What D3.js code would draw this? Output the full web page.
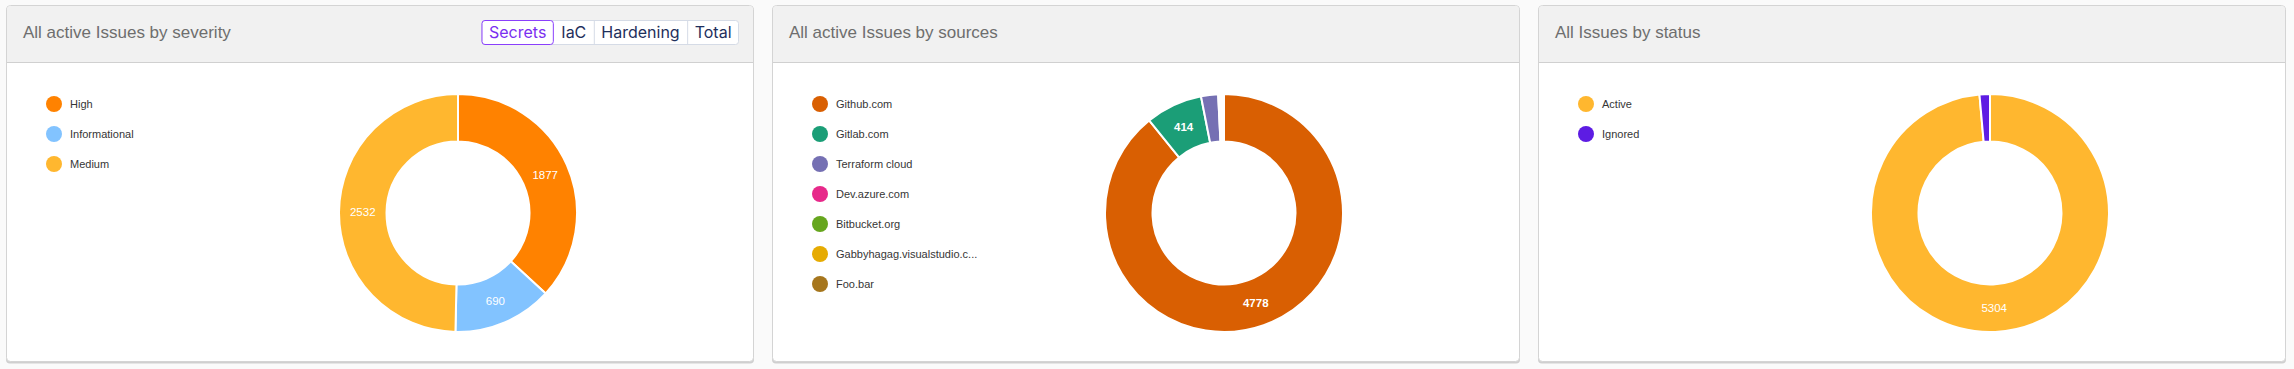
<!DOCTYPE html>
<html>
<head>
<meta charset="utf-8">
<script src="https://cdn.jsdelivr.net/npm/d3@7"></script>
<style>
  html, body { margin: 0; padding: 0; background: #fafafa; }
  svg { display: block; }
</style>
</head>
<body>
<svg id="chart" width="2294" height="369"></svg>
<script>
// ---- data ----
const severityLabels = ["High", "Informational", "Medium"];
const severityValues = [1877, 690, 2532];

const sourceLabels = ["Github.com", "Gitlab.com", "Terraform cloud", "Dev.azure.com", "Bitbucket.org", "Gabbyhagag.visualstudio.c...", "Foo.bar"];
const sourceValues = [4778, 414, 124, 12, 11, 10, 9];

const statusLabels = ["Active", "Ignored"];
const statusValues = [5304, 76];

const titles = ["All active Issues by severity", "All active Issues by sources", "All Issues by status"];
const toggleLabels = ["Secrets", "IaC", "Hardening", "Total"];

// ---- styles ----
const severityColors = ["#ff8200", "#82c3ff", "#ffb72f"];
const sourceColors = ["#d95f02", "#1b9e77", "#7570b3", "#e7298a", "#66a61e", "#e6ab02", "#a6761d"];
const statusColors = ["#ffb72f", "#5d1ce3"];

const svg = d3.select("#chart");
const panelX = [6, 772, 1538];
const panelW = 748, panelTop = 5, panelH = 357, headerH = 57;

const panels = [
  {labels: severityLabels, values: severityValues, colors: severityColors},
  {labels: sourceLabels, values: sourceValues, colors: sourceColors},
  {labels: statusLabels, values: statusValues, colors: statusColors}
];

const outerR = 119, innerR = 71.5;
const arc = d3.arc().innerRadius(innerR).outerRadius(outerR);
const labelArc = d3.arc().innerRadius((innerR + outerR) / 2).outerRadius((innerR + outerR) / 2);
const pie = d3.pie().sort(null).value(d => d);

panels.forEach((p, i) => {
  const g = svg.append("g").attr("transform", `translate(${panelX[i]},${panelTop})`);
  // shadow
  g.append("rect").attr("x", 0).attr("y", 1.5).attr("width", panelW).attr("height", panelH)
    .attr("rx", 4).attr("fill", "#cfcfcf");
  // panel
  g.append("rect").attr("x", 0.5).attr("y", 0.5).attr("width", panelW - 1).attr("height", panelH - 1)
    .attr("rx", 4).attr("fill", "#ffffff").attr("stroke", "#d4d4d4");
  // header
  const clipId = "clip" + i;
  g.append("clipPath").attr("id", clipId).append("rect")
    .attr("x", 1).attr("y", 1).attr("width", panelW - 2).attr("height", panelH - 2).attr("rx", 3.5);
  g.append("rect").attr("x", 1).attr("y", 1).attr("width", panelW - 2).attr("height", headerH - 1)
    .attr("fill", "#f1f1f1").attr("clip-path", `url(#${clipId})`);
  g.append("line").attr("x1", 1).attr("x2", panelW - 1).attr("y1", headerH + 0.5).attr("y2", headerH + 0.5)
    .attr("stroke", "#d0d0d0");
  g.append("text").attr("x", 17).attr("y", 33).attr("fill", "#6e6e6e")
    .attr("font-family", "Liberation Sans, Arial, sans-serif").attr("font-size", 17)
    .text(titles[i]);

  // legend
  const leg = g.selectAll(".leg").data(p.labels).join("g")
    .attr("transform", (d, k) => `translate(48,${99 + k * 30})`);
  leg.append("circle").attr("r", 8).attr("fill", (d, k) => p.colors[k]);
  leg.append("text").attr("x", 16).attr("y", 4).attr("fill", "#363636")
    .attr("font-family", "Liberation Sans, Arial, sans-serif").attr("font-size", 11)
    .text(d => d);

  // donut
  const cx = 452, cy = 208;
  const dg = g.append("g").attr("transform", `translate(${cx},${cy})`);
  const arcs = pie(p.values);
  dg.selectAll("path").data(arcs).join("path")
    .attr("d", arc).attr("fill", (d, k) => p.colors[k])
    .attr("stroke", "#ffffff").attr("stroke-width", 2).attr("stroke-linejoin", "bevel");
  dg.selectAll("text").data(arcs.filter(a => a.endAngle - a.startAngle > 0.25)).join("text")
    .attr("transform", d => `translate(${labelArc.centroid(d)})`)
    .attr("text-anchor", "middle").attr("dy", "0.36em")
    .attr("fill", "#ffffff").attr("font-family", "Liberation Sans, Arial, sans-serif")
    .attr("font-size", 11.5).attr("font-weight", i === 1 ? "bold" : "normal")
    .text(d => d.data);
});

// toggle buttons in first header
const tg = svg.append("g").attr("transform", `translate(0,20)`);
const tmp = tg.append("g");
const widths = toggleLabels.map(t => {
  const tt = tmp.append("text").attr("font-family", "Inter, sans-serif").attr("font-size", 16).text(t);
  const w = tt.node().getComputedTextLength();
  tt.remove();
  return w + 15;
});
tmp.remove();
const totalW = d3.sum(widths);
const rightEdge = 739;
let xs = [], acc = rightEdge - totalW;
widths.forEach(w => { xs.push(acc); acc += w; });
tg.append("rect").attr("x", rightEdge - totalW + 0.5).attr("y", 0.5).attr("width", totalW - 1).attr("height", 24)
  .attr("rx", 3).attr("fill", "#ffffff").attr("stroke", "#d5dbe6");
toggleLabels.forEach((t, k) => {
  if (k > 1) {
    tg.append("line").attr("x1", xs[k] + 0.5).attr("x2", xs[k] + 0.5).attr("y1", 1).attr("y2", 24)
      .attr("stroke", "#d5dbe6");
  }
  if (k === 0) {
    tg.append("rect").attr("x", xs[k] + 0.5).attr("y", 0.5).attr("width", widths[k] - 1).attr("height", 24)
      .attr("rx", 3).attr("fill", "#ffffff").attr("stroke", "#8a3ffc");
  }
  tg.append("text").attr("x", xs[k] + widths[k] / 2).attr("y", 18).attr("text-anchor", "middle")
    .attr("font-family", "Inter, sans-serif").attr("font-size", 16)
    .attr("fill", k === 0 ? "#7a2ff0" : "#1e2f5c").text(t);
});
</script>
</body>
</html>
